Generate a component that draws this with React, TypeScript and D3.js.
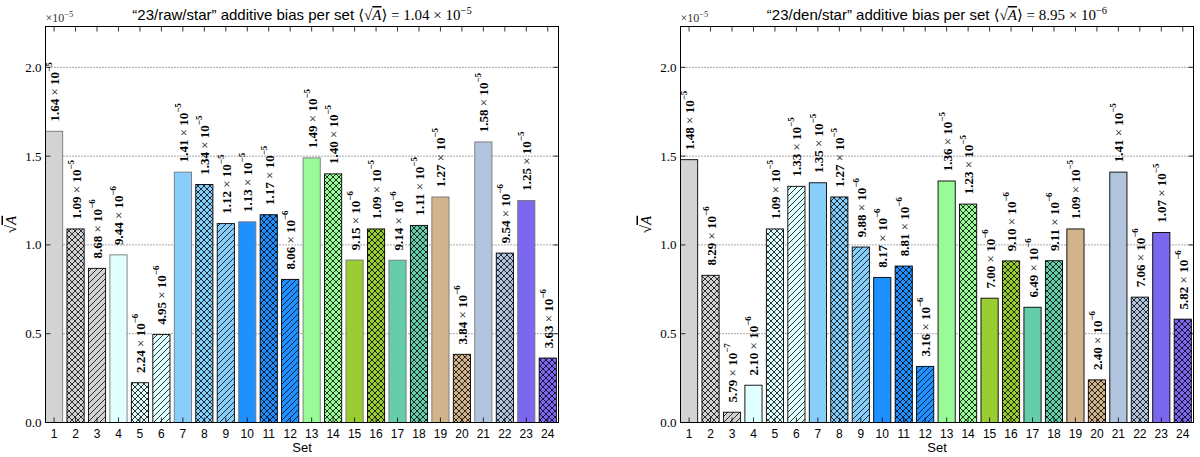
import React from "react";
import * as d3 from "d3";

// set numbers on the x axis
const setIds = [
  1, 2, 3, 4, 5, 6, 7, 8, 9, 10, 11, 12, 13, 14, 15, 16, 17, 18, 19, 20, 21,
  22, 23, 24,
];

// sqrt(A) per set, "23/raw/star"
const rawBias = [
  1.64e-5, 1.09e-5, 8.68e-6, 9.44e-6, 2.24e-6, 4.95e-6, 1.41e-5, 1.34e-5,
  1.12e-5, 1.13e-5, 1.17e-5, 8.06e-6, 1.49e-5, 1.4e-5, 9.15e-6, 1.09e-5,
  9.14e-6, 1.11e-5, 1.27e-5, 3.84e-6, 1.58e-5, 9.54e-6, 1.25e-5, 3.63e-6,
];

// sqrt(A) per set, "23/den/star"
const denBias = [
  1.48e-5, 8.29e-6, 5.79e-7, 2.1e-6, 1.09e-5, 1.33e-5, 1.35e-5, 1.27e-5,
  9.88e-6, 8.17e-6, 8.81e-6, 3.16e-6, 1.36e-5, 1.23e-5, 7.0e-6, 9.1e-6,
  6.49e-6, 9.11e-6, 1.09e-5, 2.4e-6, 1.41e-5, 7.06e-6, 1.07e-5, 5.82e-6,
];

const barColors = [
  "#d3d3d3", "#d3d3d3", "#d3d3d3",
  "#e0ffff", "#e0ffff", "#e0ffff",
  "#87cefa", "#87cefa", "#87cefa",
  "#1e90ff", "#1e90ff", "#1e90ff",
  "#98fb98", "#98fb98",
  "#9acd32", "#9acd32",
  "#66cdaa", "#66cdaa",
  "#d2b48c", "#d2b48c",
  "#b0c4de", "#b0c4de",
  "#7b68ee", "#7b68ee",
];

const barHatches = [
  "", "x", "/", "", "x", "/", "", "x", "/", "", "x", "/",
  "", "x", "", "x", "", "x", "", "x", "", "x", "", "x",
];

const yTicks = [0, 0.5, 1.0, 1.5, 2.0];

const W = 1200;
const H = 457;
const TOP = 26.5;
const BOTTOM = 422.5;
const Y_MAX = 2.23;
const UNIT = 1e-5;
const serif = "'Liberation Serif', 'DejaVu Serif', serif";
const sans = "'Liberation Sans', Arial, sans-serif";

const splitSci = (v: number) => {
  const exp = Math.floor(Math.log10(v));
  const mant = (v / Math.pow(10, exp)).toFixed(2);
  return { mant, exp: exp < 0 ? `\u2212${-exp}` : `${exp}` };
};

interface PanelProps {
  name: string;
  mean: number;
  values: number[];
  left: number;
  right: number;
  plainEdge: string;
}

const Panel: React.FC<PanelProps> = ({
  name,
  mean,
  values,
  left,
  right,
  plainEdge,
}) => {
  const x = d3.scaleLinear().domain([0.6, 24.5]).range([left, right]);
  const y = d3.scaleLinear().domain([0, Y_MAX]).range([BOTTOM, TOP]);
  const bw = x(0.8) - x(0);
  const cx = (left + right) / 2;
  const m = splitSci(mean);

  return (
    <g>
      {/* grid */}
      {yTicks.slice(1).map((t) => (
        <line
          key={t}
          x1={left}
          x2={right}
          y1={y(t)}
          y2={y(t)}
          stroke="#000"
          strokeWidth={0.7}
          strokeDasharray="1,2"
        />
      ))}

      {/* bars */}
      {setIds.map((s, i) => {
        const v = values[i] / UNIT;
        const hatch = barHatches[i];
        const bx = x(s) - bw / 2;
        return (
          <g key={s}>
            <rect
              x={bx}
              y={y(v)}
              width={bw}
              height={y(0) - y(v)}
              fill={barColors[i]}
            />
            {hatch && (
              <rect
                x={bx}
                y={y(v)}
                width={bw}
                height={y(0) - y(v)}
                fill={hatch === "x" ? "url(#hatch-x)" : "url(#hatch-slash)"}
              />
            )}
            <rect
              x={bx}
              y={y(v)}
              width={bw}
              height={y(0) - y(v)}
              fill="none"
              stroke={hatch ? "#000" : plainEdge}
              strokeWidth={0.9}
            />
          </g>
        );
      })}

      {/* value labels */}
      {setIds.map((s, i) => {
        const v = values[i] / UNIT;
        const lab = splitSci(values[i]);
        return (
          <text
            key={s}
            transform={`translate(${x(s)},${y(v + 0.055)}) rotate(-90)`}
            fontFamily={serif}
            fontSize={13}
            dominantBaseline="central"
            fill="#000"
          >
            <tspan fontWeight="bold">{lab.mant}</tspan>
            <tspan> × </tspan>
            <tspan fontWeight="bold">10</tspan>
            <tspan fontSize={9} dy={-5} fontWeight="bold">
              {lab.exp}
            </tspan>
          </text>
        );
      })}

      {/* frame */}
      <rect
        x={left}
        y={TOP}
        width={right - left}
        height={BOTTOM - TOP}
        fill="none"
        stroke="#000"
        strokeWidth={1}
      />

      {/* x ticks */}
      {setIds.map((s) => (
        <g key={s}>
          <line x1={x(s)} x2={x(s)} y1={BOTTOM} y2={BOTTOM - 5} stroke="#000" strokeWidth={0.8} />
          <line x1={x(s)} x2={x(s)} y1={TOP} y2={TOP + 5} stroke="#000" strokeWidth={0.8} />
          <text
            x={x(s)}
            y={438}
            textAnchor="middle"
            fontFamily={sans}
            fontSize={12}
          >
            {s}
          </text>
        </g>
      ))}

      {/* y ticks */}
      {yTicks.map((t) => (
        <g key={t}>
          <line x1={left} x2={left + 5} y1={y(t)} y2={y(t)} stroke="#000" strokeWidth={0.8} />
          <line x1={right} x2={right - 5} y1={y(t)} y2={y(t)} stroke="#000" strokeWidth={0.8} />
          <text
            x={left - 4}
            y={y(t)}
            textAnchor="end"
            dominantBaseline="central"
            fontFamily={serif}
            fontSize={13}
          >
            {t.toFixed(1)}
          </text>
        </g>
      ))}

      {/* offset text */}
      <text x={left} y={22} fontFamily={serif} fontSize={12} fill="#333">
        ×10
        <tspan fontSize={8.5} dy={-5}>
          −5
        </tspan>
      </text>

      {/* axis labels */}
      <text x={cx} y={452} textAnchor="middle" fontFamily={sans} fontSize={13}>
        Set
      </text>
      <text
        transform={`translate(${left - 30},${(TOP + BOTTOM) / 2}) rotate(-90)`}
        textAnchor="middle"
        fontFamily={serif}
        fontSize={15}
      >
        √
        <tspan fontStyle="italic" style={{ textDecoration: "overline" }}>
          A
        </tspan>
      </text>

      {/* title */}
      <text x={cx} y={20} textAnchor="middle" fontFamily={sans} fontSize={15}>
        {`\u201C${name}\u201D additive bias per set `}
        <tspan fontFamily={serif}>⟨√</tspan>
        <tspan
          fontFamily={serif}
          fontStyle="italic"
          style={{ textDecoration: "overline" }}
        >
          A
        </tspan>
        <tspan fontFamily={serif}>{`⟩ = ${m.mant} × 10`}</tspan>
        <tspan fontFamily={serif} fontSize={10.5} dy={-6}>
          {m.exp}
        </tspan>
      </text>
    </g>
  );
};

export default function App() {
  return (
    <svg
      width={W}
      height={H}
      viewBox={`0 0 ${W} ${H}`}
      style={{ position: "absolute", left: 0, top: 0, background: "#fff" }}
    >
      <defs>
        <pattern id="hatch-x" width={6} height={6} patternUnits="userSpaceOnUse">
          <path d="M0,0 L6,6 M6,0 L0,6" stroke="#000" strokeWidth={0.8} />
        </pattern>
        <pattern id="hatch-slash" width={6} height={6} patternUnits="userSpaceOnUse">
          <path d="M0,6 L6,0 M-1,1 L1,-1 M5,7 L7,5" stroke="#000" strokeWidth={0.8} />
        </pattern>
      </defs>
      <rect width={W} height={H} fill="#fff" />
      <Panel
        name="23/raw/star"
        mean={1.04e-5}
        values={rawBias}
        left={45.5}
        right={558.5}
        plainEdge="#777"
      />
      <Panel
        name="23/den/star"
        mean={8.95e-6}
        values={denBias}
        left={680.5}
        right={1193.5}
        plainEdge="#000"
      />
    </svg>
  );
}
